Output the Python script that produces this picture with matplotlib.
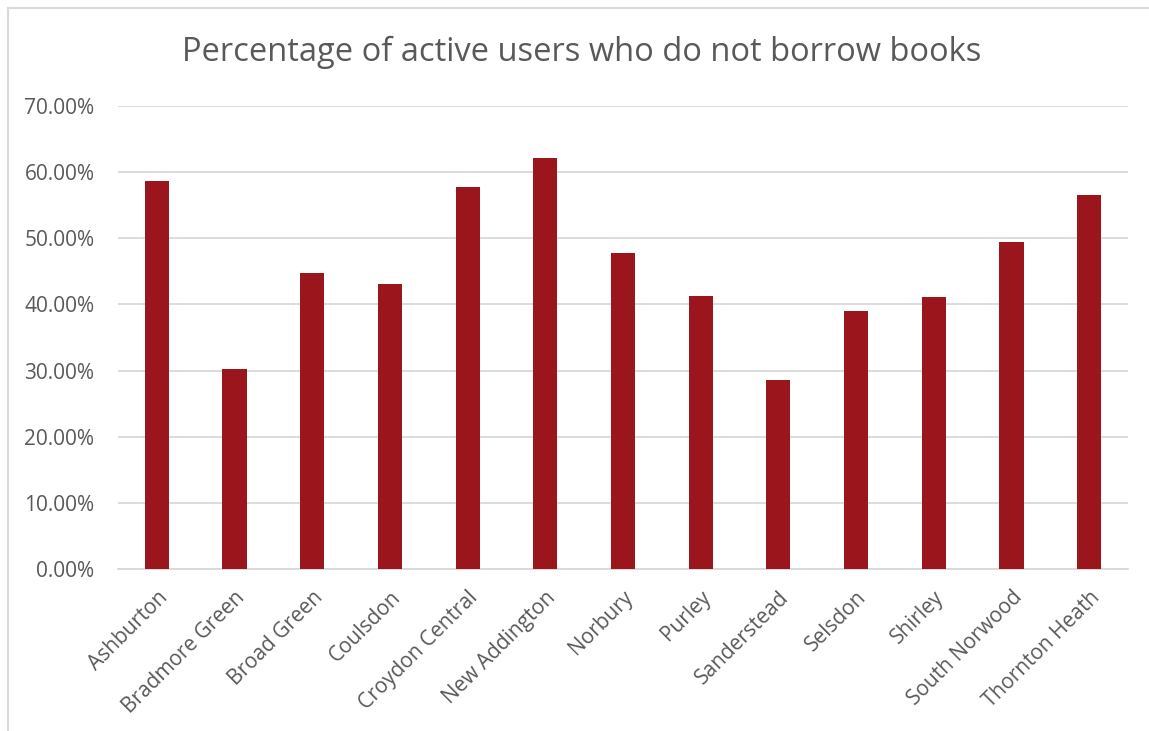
import matplotlib
matplotlib.use('Agg')
from matplotlib import pyplot as plt
from matplotlib.ticker import PercentFormatter
import numpy as np

LIBRARIES = ['Ashburton', 'Bradmore Green', 'Broad Green', 'Coulsdon',
             'Croydon Central', 'New Addington', 'Norbury', 'Purley',
             'Sanderstead', 'Selsdon', 'Shirley', 'South Norwood',
             'Thornton Heath']
NON_BORROWERS = [58.7, 30.3, 44.8, 43.1, 57.8, 62.1, 47.7,
                 41.2, 28.6, 39.0, 41.1, 49.5, 56.6]
Y_TICKS = [0, 10, 20, 30, 40, 50, 60, 70]
TITLE = 'Percentage of active users who do not borrow books'

BAR_COLOR = '#9b151d'
TEXT_COLOR = '#595959'
GRID_COLOR = '#d9d9d9'


def main():
    plt.rcParams['font.family'] = ['Open Sans', 'DejaVu Sans']
    fig = plt.figure(figsize=(11.49, 7.31), dpi=100)

    # outer chart frame (left and top edges are visible)
    fig.add_artist(plt.Line2D([7.5 / 1149, 7.5 / 1149], [0, 1 - 8 / 731],
                              transform=fig.transFigure, color=GRID_COLOR, lw=1.5))
    fig.add_artist(plt.Line2D([7.5 / 1149, 1], [1 - 8 / 731, 1 - 8 / 731],
                              transform=fig.transFigure, color=GRID_COLOR, lw=1.5))

    ax = fig.add_axes([118 / 1149, 162 / 731, 1010 / 1149, 463 / 731])
    x_indexes = np.arange(len(LIBRARIES))
    ax.bar(x_indexes, NON_BORROWERS, width=0.31, color=BAR_COLOR, zorder=3)

    ax.set_xlim(-0.5, len(LIBRARIES) - 0.5)
    ax.set_ylim(0, 70)
    ax.set_yticks(Y_TICKS)
    ax.yaxis.set_major_formatter(PercentFormatter(decimals=2))
    ax.grid(axis='y', color=GRID_COLOR, lw=1.3, zorder=0)
    ax.set_xticks(x_indexes)
    ax.set_xticklabels(LIBRARIES, rotation=45, ha='right', rotation_mode='anchor')
    ax.tick_params(axis='both', length=0, labelsize=15, colors=TEXT_COLOR)
    ax.tick_params(axis='x', pad=13)
    ax.tick_params(axis='y', pad=17)
    for side in ['top', 'right', 'left']:
        ax.spines[side].set_visible(False)
    ax.spines['bottom'].set_color(GRID_COLOR)
    ax.spines['bottom'].set_linewidth(1.3)

    fig.text(582 / 1149, 1 - 52 / 731, TITLE, ha='center', va='center',
             fontsize=23.5, color=TEXT_COLOR)

    fig.savefig('out.png', dpi=100)


if __name__ == '__main__':
    main()
